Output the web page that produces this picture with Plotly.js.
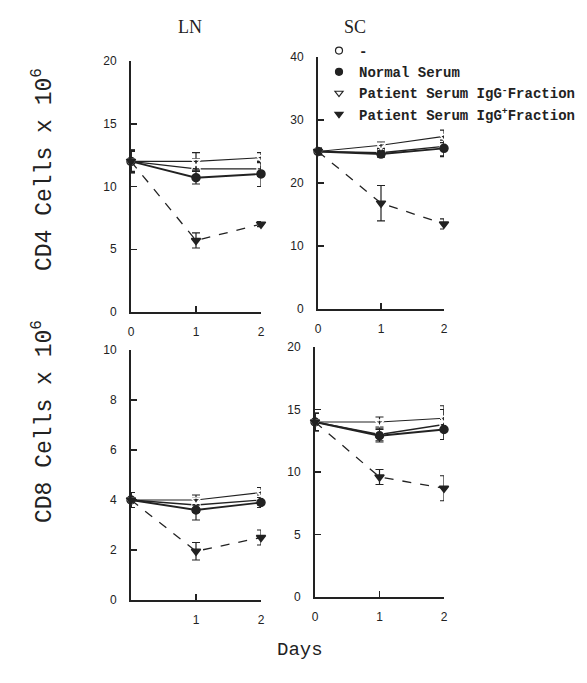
<!DOCTYPE html>
<html><head><meta charset="utf-8">
<script src="https://cdn.plot.ly/plotly-3.0.1.min.js"></script>
<style>html,body{margin:0;padding:0;background:#fff}#c{width:587px;height:683px}</style>
</head><body><div id="c"></div>
<script>
const days = [0, 1, 2];
const seriesNames = ["-", "Normal Serum", "Patient Serum IgG<sup>-</sup>Fraction", "Patient Serum IgG<sup>+</sup>Fraction"];
const seriesSymbols = ["circle-open", "circle", "triangle-down-open", "triangle-down"];

// LN CD4 (x10^6)
const lnCD4_ctrl = [12, 11.4, 11.4], lnCD4_ctrl_err = [0.9, 0.8, 0.6];
const lnCD4_norm = [12, 10.7, 11.0], lnCD4_norm_err = [0.8, 0.5, 1.0];
const lnCD4_neg = [12, 12.0, 12.3], lnCD4_neg_err = [0.9, 0.7, 0.4];
const lnCD4_pos = [12, 5.7, 7.0], lnCD4_pos_err = [0.9, 0.6, 0.2];
// SC CD4
const scCD4_ctrl = [25, 24.8, 25.8], scCD4_ctrl_err = [0.5, 0.5, 1.5];
const scCD4_norm = [25, 24.6, 25.5], scCD4_norm_err = [0.5, 0.5, 1.3];
const scCD4_neg = [25, 26.0, 27.4], scCD4_neg_err = [0.5, 0.5, 1.0];
const scCD4_pos = [25, 16.8, 13.5], scCD4_pos_err = [0.5, 2.8, 0.8];
// LN CD8
const lnCD8_ctrl = [4, 3.8, 4.0], lnCD8_ctrl_err = [0.3, 0.3, 0.2];
const lnCD8_norm = [4, 3.6, 3.9], lnCD8_norm_err = [0.3, 0.4, 0.2];
const lnCD8_neg = [4, 4.0, 4.3], lnCD8_neg_err = [0.3, 0.2, 0.2];
const lnCD8_pos = [4, 1.95, 2.5], lnCD8_pos_err = [0.3, 0.35, 0.3];
// SC CD8
const scCD8_ctrl = [14, 13.0, 13.8], scCD8_ctrl_err = [0.7, 0.5, 1.2];
const scCD8_norm = [14, 12.9, 13.4], scCD8_norm_err = [0.7, 0.5, 0.8];
const scCD8_neg = [14, 14.0, 14.3], scCD8_neg_err = [0.7, 0.4, 1.0];
const scCD8_pos = [14, 9.6, 8.7], scCD8_pos_err = [0.7, 0.6, 1.0];

const panels = [
  {xa: "x", ya: "y", s: [[lnCD4_ctrl, lnCD4_ctrl_err], [lnCD4_norm, lnCD4_norm_err], [lnCD4_neg, lnCD4_neg_err], [lnCD4_pos, lnCD4_pos_err]]},
  {xa: "x2", ya: "y2", s: [[scCD4_ctrl, scCD4_ctrl_err], [scCD4_norm, scCD4_norm_err], [scCD4_neg, scCD4_neg_err], [scCD4_pos, scCD4_pos_err]]},
  {xa: "x3", ya: "y3", s: [[lnCD8_ctrl, lnCD8_ctrl_err], [lnCD8_norm, lnCD8_norm_err], [lnCD8_neg, lnCD8_neg_err], [lnCD8_pos, lnCD8_pos_err]]},
  {xa: "x4", ya: "y4", s: [[scCD8_ctrl, scCD8_ctrl_err], [scCD8_norm, scCD8_norm_err], [scCD8_neg, scCD8_neg_err], [scCD8_pos, scCD8_pos_err]]}
];
const lineStyles = [
  {width: 1.3, dash: "solid"},
  {width: 1.8, dash: "solid"},
  {width: 1.1, dash: "solid"},
  {width: 1.3, dash: "dash"}
];
const ink = "#222";
const traces = [];
panels.forEach(p => {
  p.s.forEach((sv, i) => {
    traces.push({
      x: days, y: sv[0], xaxis: p.xa, yaxis: p.ya, mode: "lines+markers",
      showlegend: false, cliponaxis: false,
      line: {color: ink, width: lineStyles[i].width, dash: lineStyles[i].dash},
      marker: {symbol: seriesSymbols[i], size: 8, color: i === 0 || i === 2 ? "#fff" : ink, line: {color: ink, width: 1.5}},
      error_y: {type: "data", array: sv[1], visible: true, color: ink, thickness: 1.2, width: 4}
    });
  });
});
// legend-only marker traces
seriesNames.forEach((n, i) => {
  traces.push({x: [null], y: [null], mode: "markers", name: n, showlegend: true,
    marker: {symbol: seriesSymbols[i], size: 7, color: ink, line: {color: ink, width: 1.2}}});
});

const W = 587, H = 683;
const px = (a, b) => [a / W, b / W];
const py = (bot, top) => [(H - bot) / H, (H - top) / H];
const tickFont = {family: "Liberation Sans, Arial", size: 12, color: "#222"};
function xa(dom, anchor, showZero) {
  return {domain: dom, anchor: anchor, range: [0, 2], tickvals: showZero ? [0, 1, 2] : [1, 2], ticktext: showZero ? ["0", "1", "2"] : ["1", "2"],
    showline: true, linecolor: ink, linewidth: 1.6, ticks: "inside", ticklen: 6, tickwidth: 1.5, tickcolor: ink,
    showgrid: false, zeroline: false, tickfont: tickFont, ticklabelstandoff: 8, fixedrange: true};
}
function ya(dom, anchor, max, dt) {
  return {domain: dom, anchor: anchor, range: [0, max], dtick: dt, tick0: 0,
    showline: true, linecolor: ink, linewidth: 2, ticks: "inside", ticklen: 6, tickwidth: 1.5, tickcolor: ink,
    showgrid: false, zeroline: false, tickfont: tickFont, ticklabelstandoff: 10, fixedrange: true};
}
function note(text, x, y, font, angle) {
  return {text: text, x: x / W, y: (H - y) / H, xref: "paper", yref: "paper", xanchor: "center", yanchor: "middle",
    showarrow: false, textangle: angle || 0, font: font};
}
const titleSerif = {family: "Liberation Serif, Times New Roman", size: 18, color: ink};
const monoBig = {family: "Liberation Mono, Courier New", size: 23, color: ink};
const layout = {
  width: W, height: H, margin: {l: 0, r: 0, t: 0, b: 0}, paper_bgcolor: "#fff", plot_bgcolor: "rgba(0,0,0,0)",
  showlegend: true,
  legend: {x: 319 / W, y: (H - 35) / H, xanchor: "left", yanchor: "top", bgcolor: "rgba(0,0,0,0)",
    font: {family: "Liberation Mono, Courier New", size: 14, color: ink, weight: "bold"}, itemwidth: 30, tracegroupgap: 0},
  xaxis: xa(px(131, 261), "y", true),
  yaxis: ya(py(312, 61), "x", 20, 5),
  xaxis2: xa(px(318, 444), "y2", true),
  yaxis2: ya(py(309, 57), "x2", 40, 10),
  xaxis3: xa(px(131, 261), "y3", false),
  yaxis3: ya(py(600, 350), "x3", 10, 2),
  xaxis4: xa(px(315, 444), "y4", true),
  yaxis4: ya(py(597, 347), "x4", 20, 5),
  annotations: [
    note("LN", 190, 27, titleSerif),
    note("SC", 355, 27, titleSerif),
    note("Days", 300, 650, {family: "Liberation Mono, Courier New", size: 19, color: ink}),
    note("CD4 Cells x 10<sup>6</sup>", 43, 170, monoBig, -90),
    note("CD8 Cells x 10<sup>6</sup>", 43, 422, monoBig, -90)
  ]
};
Plotly.newPlot("c", traces, layout, {displayModeBar: false, staticPlot: true});
</script></body></html>
